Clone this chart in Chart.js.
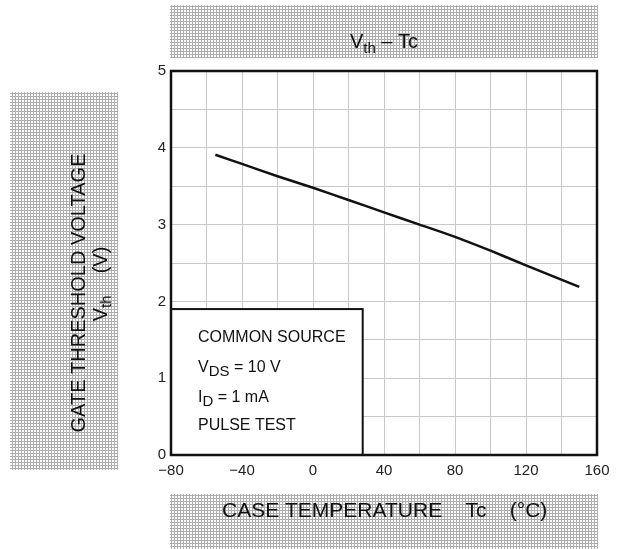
<!DOCTYPE html>
<html><head><meta charset="utf-8">
<script src="https://cdn.jsdelivr.net/npm/chart.js@4.4.1/dist/chart.umd.min.js"></script>
<style>html,body{margin:0;padding:0;background:#fff}canvas{display:block}</style>
</head><body>
<canvas id="c" width="620" height="549"></canvas>
<script>
// ---- data ----
const tempC = [-55, -40, -20, 0, 20, 40, 60, 80, 100, 120, 150];
const vth   = [3.91, 3.79, 3.63, 3.48, 3.32, 3.16, 3.00, 2.84, 2.66, 2.47, 2.19];
const xTickLabels = [-80, -40, 0, 40, 80, 120, 160];
const yTickLabels = [0, 1, 2, 3, 4, 5];
const noteBoxRange = [28, 1.9]; // upper temperature, upper voltage of note box
const noteLines = [
  [["COMMON SOURCE", ""]],
  [["V", "DS"], [" = 10 V", ""]],
  [["I", "D"], [" = 1 mA", ""]],
  [["PULSE TEST", ""]]
];

const FONT = '"Liberation Sans", Arial, Helvetica, sans-serif';

function makePattern(ctx) {
  const pc = document.createElement('canvas');
  pc.width = 3; pc.height = 3;
  const p = pc.getContext('2d');
  p.fillStyle = '#ffffff'; p.fillRect(0, 0, 3, 3);
  p.fillStyle = '#adadad';
  p.fillRect(0, 0, 1, 3);
  p.fillRect(0, 0, 3, 1);
  return ctx.createPattern(pc, 'repeat');
}

// draw text made of [main, subscript] pieces; returns width
function drawRich(ctx, pieces, x, y, size, subSize, subDrop, measureOnly) {
  let cx = x;
  for (const [main, sub] of pieces) {
    ctx.font = size + 'px ' + FONT;
    if (!measureOnly) ctx.fillText(main, cx, y);
    cx += ctx.measureText(main).width;
    if (sub) {
      ctx.font = subSize + 'px ' + FONT;
      if (!measureOnly) ctx.fillText(sub, cx, y + subDrop);
      cx += ctx.measureText(sub).width;
    }
  }
  return cx - x;
}

const decor = {
  id: 'decor',
  beforeDraw(chart) {
    const ctx = chart.ctx;
    const pat = makePattern(ctx);
    ctx.save();
    ctx.fillStyle = pat;
    ctx.fillRect(170, 5, 428, 53);     // title banner
    ctx.fillRect(10, 92, 108, 378);    // y-label banner
    ctx.fillRect(170, 494, 428, 55);   // x-label banner
    ctx.fillStyle = '#111';
    ctx.textBaseline = 'alphabetic';
    // title
    const tPieces = [["V", "th"], [" \u2013 Tc", ""]];
    const tw = drawRich(ctx, tPieces, 0, 0, 20, 15, 5, true);
    drawRich(ctx, tPieces, 384 - tw / 2, 48, 20, 15, 5, false);
    // x label
    ctx.font = '21px ' + FONT;
    ctx.textAlign = 'left';
    ctx.fillText('CASE TEMPERATURE    Tc    (\u00B0C)', 222, 517);
    // y label
    ctx.save();
    ctx.translate(85, 293);
    ctx.rotate(-Math.PI / 2);
    ctx.font = '20px ' + FONT;
    ctx.textAlign = 'center';
    ctx.fillText('GATE THRESHOLD VOLTAGE', 0, 0);
    ctx.restore();
    ctx.save();
    ctx.translate(107, 284);
    ctx.rotate(-Math.PI / 2);
    ctx.textAlign = 'left';
    const yPieces = [["V", "th"], ["    (V)", ""]];
    const yw = drawRich(ctx, yPieces, 0, 0, 20, 15, 4, true);
    drawRich(ctx, yPieces, -yw / 2, 0, 20, 15, 4, false);
    ctx.restore();
    ctx.restore();
  },
  afterDraw(chart) {
    const ctx = chart.ctx;
    const a = chart.chartArea;
    const xs = chart.scales.x, ys = chart.scales.y;
    ctx.save();
    // note box
    const bx0 = a.left, by1 = a.bottom;
    const bx1 = xs.getPixelForValue(noteBoxRange[0]);
    const by0 = ys.getPixelForValue(noteBoxRange[1]);
    ctx.fillStyle = '#fff';
    ctx.fillRect(bx0, by0, bx1 - bx0, by1 - by0);
    ctx.strokeStyle = '#111';
    ctx.lineWidth = 2;
    ctx.strokeRect(bx0, by0, bx1 - bx0, by1 - by0);
    ctx.fillStyle = '#111';
    ctx.textAlign = 'left';
    ctx.textBaseline = 'alphabetic';
    const offs = [33, 63, 93, 121];
    noteLines.forEach((ln, i) => drawRich(ctx, ln, bx0 + 27, by0 + offs[i], 16, 15, 4, false));
    // frame
    ctx.strokeStyle = '#111';
    ctx.lineWidth = 2.5;
    ctx.strokeRect(a.left, a.top, a.right - a.left, a.bottom - a.top);
    ctx.restore();
  }
};

new Chart(document.getElementById('c'), {
  type: 'line',
  data: {
    datasets: [{
      data: tempC.map((t, i) => ({x: t, y: vth[i]})),
      borderColor: '#111',
      borderWidth: 2.5,
      pointRadius: 0,
      tension: 0.3,
      fill: false
    }]
  },
  options: {
    responsive: false,
    devicePixelRatio: 1,
    animation: false,
    layout: {padding: {left: 121, right: 23, top: 71, bottom: 64}},
    plugins: {legend: {display: false}, tooltip: {enabled: false}, title: {display: false}},
    scales: {
      x: {
        type: 'linear', min: -80, max: 160,
        afterFit: s => { s.height = 30; },
        grid: {color: '#c8c8c8', lineWidth: 1, drawTicks: false},
        border: {display: false},
        ticks: {
          stepSize: 20, autoSkip: false, maxRotation: 0, padding: 7,
          color: '#222', font: {family: FONT, size: 15},
          callback: v => xTickLabels.includes(v) ? (v < 0 ? '\u2212' + Math.abs(v) : String(v)) : ''
        }
      },
      y: {
        type: 'linear', min: 0, max: 5,
        afterFit: s => { s.width = 50; },
        grid: {color: '#c8c8c8', lineWidth: 1, drawTicks: false},
        border: {display: false},
        ticks: {
          stepSize: 0.5, autoSkip: false, padding: 5,
          color: '#222', font: {family: FONT, size: 15},
          callback: v => yTickLabels.includes(v) ? String(v) : ''
        }
      }
    }
  },
  plugins: [decor]
});
</script>
</body></html>
